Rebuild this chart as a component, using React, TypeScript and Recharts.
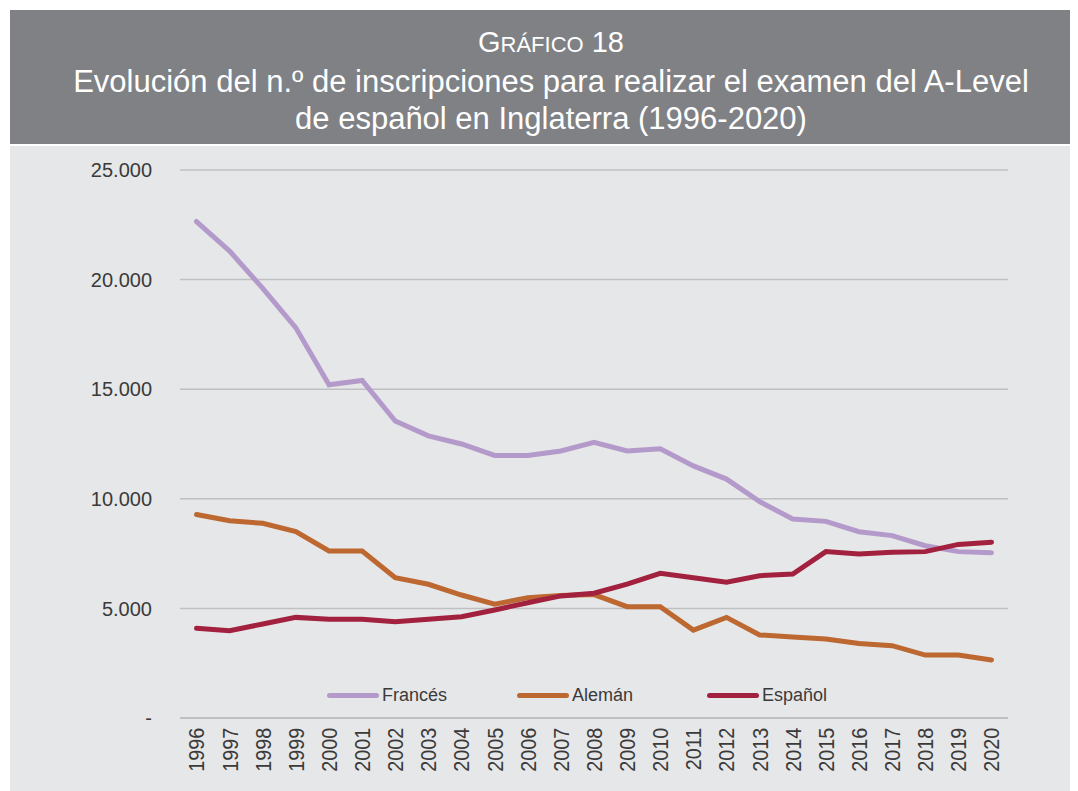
import React from 'react';
import { LineChart, Line, XAxis, YAxis, CartesianGrid } from 'recharts';

const years = [
  '1996', '1997', '1998', '1999', '2000', '2001', '2002', '2003', '2004', '2005', '2006', '2007', '2008',
  '2009', '2010', '2011', '2012', '2013', '2014', '2015', '2016', '2017', '2018', '2019', '2020',
];
const frances = [
  22650, 21300, 19600, 17800, 15200, 15400, 13550, 12870, 12500, 11980, 11980, 12180, 12580,
  12180, 12280, 11500, 10900, 9870, 9080, 8970, 8500, 8320, 7860, 7590, 7540,
];
const aleman = [
  9280, 9000, 8880, 8500, 7620, 7620, 6400, 6100, 5610, 5190, 5490, 5590, 5630,
  5080, 5080, 4010, 4590, 3790, 3700, 3600, 3400, 3300, 2870, 2870, 2650,
];
const espanol = [
  4090, 3980, 4290, 4590, 4500, 4500, 4390, 4500, 4620, 4930, 5260, 5570, 5690,
  6110, 6600, 6400, 6190, 6490, 6570, 7590, 7480, 7560, 7590, 7920, 8020,
];
const yTicks = [0, 5000, 10000, 15000, 20000, 25000];

const series = [
  { key: 'Francés', color: '#b49aca' },
  { key: 'Alemán', color: '#bd6731' },
  { key: 'Español', color: '#a1213f' },
];

const data = years.map((year, i) => ({
  year,
  'Francés': frances[i],
  'Alemán': aleman[i],
  'Español': espanol[i],
}));

const FONT = '"Liberation Sans", Arial, Helvetica, sans-serif';

const fmt = (v: number) => (v === 0 ? '-' : String(v).replace(/\B(?=(\d{3})+(?!\d))/g, '.'));

function YearTick(props: any) {
  const { x, y, payload } = props;
  return (
    <g transform={`translate(${x},${y})`}>
      <text
        transform="rotate(-90) scale(0.9,1)"
        x={-2}
        y={0}
        dy="0.36em"
        textAnchor="end"
        fill="#3a3a3a"
        fontSize={22}
        fontFamily={FONT}
      >
        {payload.value}
      </text>
    </g>
  );
}

// leyenda como capa html, para que no le quite alto al gráfico
function LegendBox() {
  return (
    <div style={{
      position: 'absolute', left: 327, top: 685, height: 20,
      display: 'flex', alignItems: 'center', fontFamily: FONT,
    }}>
      {series.map((s) => (
        <div key={s.key} style={{ width: 190, display: 'flex', alignItems: 'center' }}>
          <span style={{
            display: 'inline-block', width: 52, height: 5, borderRadius: 3,
            backgroundColor: s.color, marginRight: 3,
          }} />
          <span style={{ fontSize: 18, color: '#3a3a3a' }}>{s.key}</span>
        </div>
      ))}
    </div>
  );
}

export default function App() {
  return (
    <div style={{
      position: 'relative', width: 1078, height: 791, margin: '-8px 0 0 -8px',
      backgroundColor: '#fff', overflow: 'hidden', fontFamily: FONT,
    }}>
      <div style={{
        position: 'absolute', left: 10, top: 10, width: 1068, height: 134,
        backgroundColor: '#808185', color: '#fff', textAlign: 'center',
        boxSizing: 'border-box', paddingLeft: 14, paddingTop: 14,
        fontSize: 31, lineHeight: '37px', whiteSpace: 'nowrap',
      }}>
        <div style={{ fontSize: 29 }}>G<span style={{ fontSize: 22 }}>RÁFICO</span> 18</div>
        <div>Evolución del n.º de inscripciones para realizar el examen del A-Level</div>
        <div>de español en Inglaterra (1996-2020)</div>
      </div>
      <div style={{
        position: 'absolute', left: 10, top: 146, width: 1068, height: 645,
        backgroundColor: '#e6e7e8',
      }} />
      <div style={{ position: 'absolute', left: 0, top: 0 }}>
        <LineChart
          width={1078}
          height={791}
          data={data}
          margin={{ top: 170, right: 70, bottom: 0, left: 0 }}
        >
          <CartesianGrid vertical={false} stroke="#bfc0c2" strokeWidth={1.5} />
          <XAxis
            dataKey="year"
            height={73}
            interval={0}
            padding={{ left: 16.5, right: 16.5 }}
            tickLine={false}
            axisLine={{ stroke: '#bfc0c2', strokeWidth: 2 }}
            tick={<YearTick />}
          />
          <YAxis
            width={180}
            domain={[0, 25000]}
            ticks={yTicks}
            tickFormatter={fmt}
            tickLine={false}
            axisLine={false}
            tickMargin={22}
            tick={{ fill: '#3a3a3a', fontSize: 20, fontFamily: FONT }}
          />
          {series.map((s) => (
            <Line
              key={s.key}
              type="linear"
              dataKey={s.key}
              stroke={s.color}
              strokeWidth={5}
              strokeLinecap="round"
              dot={false}
              isAnimationActive={false}
            />
          ))}
        </LineChart>
      </div>
      <LegendBox />
    </div>
  );
}
